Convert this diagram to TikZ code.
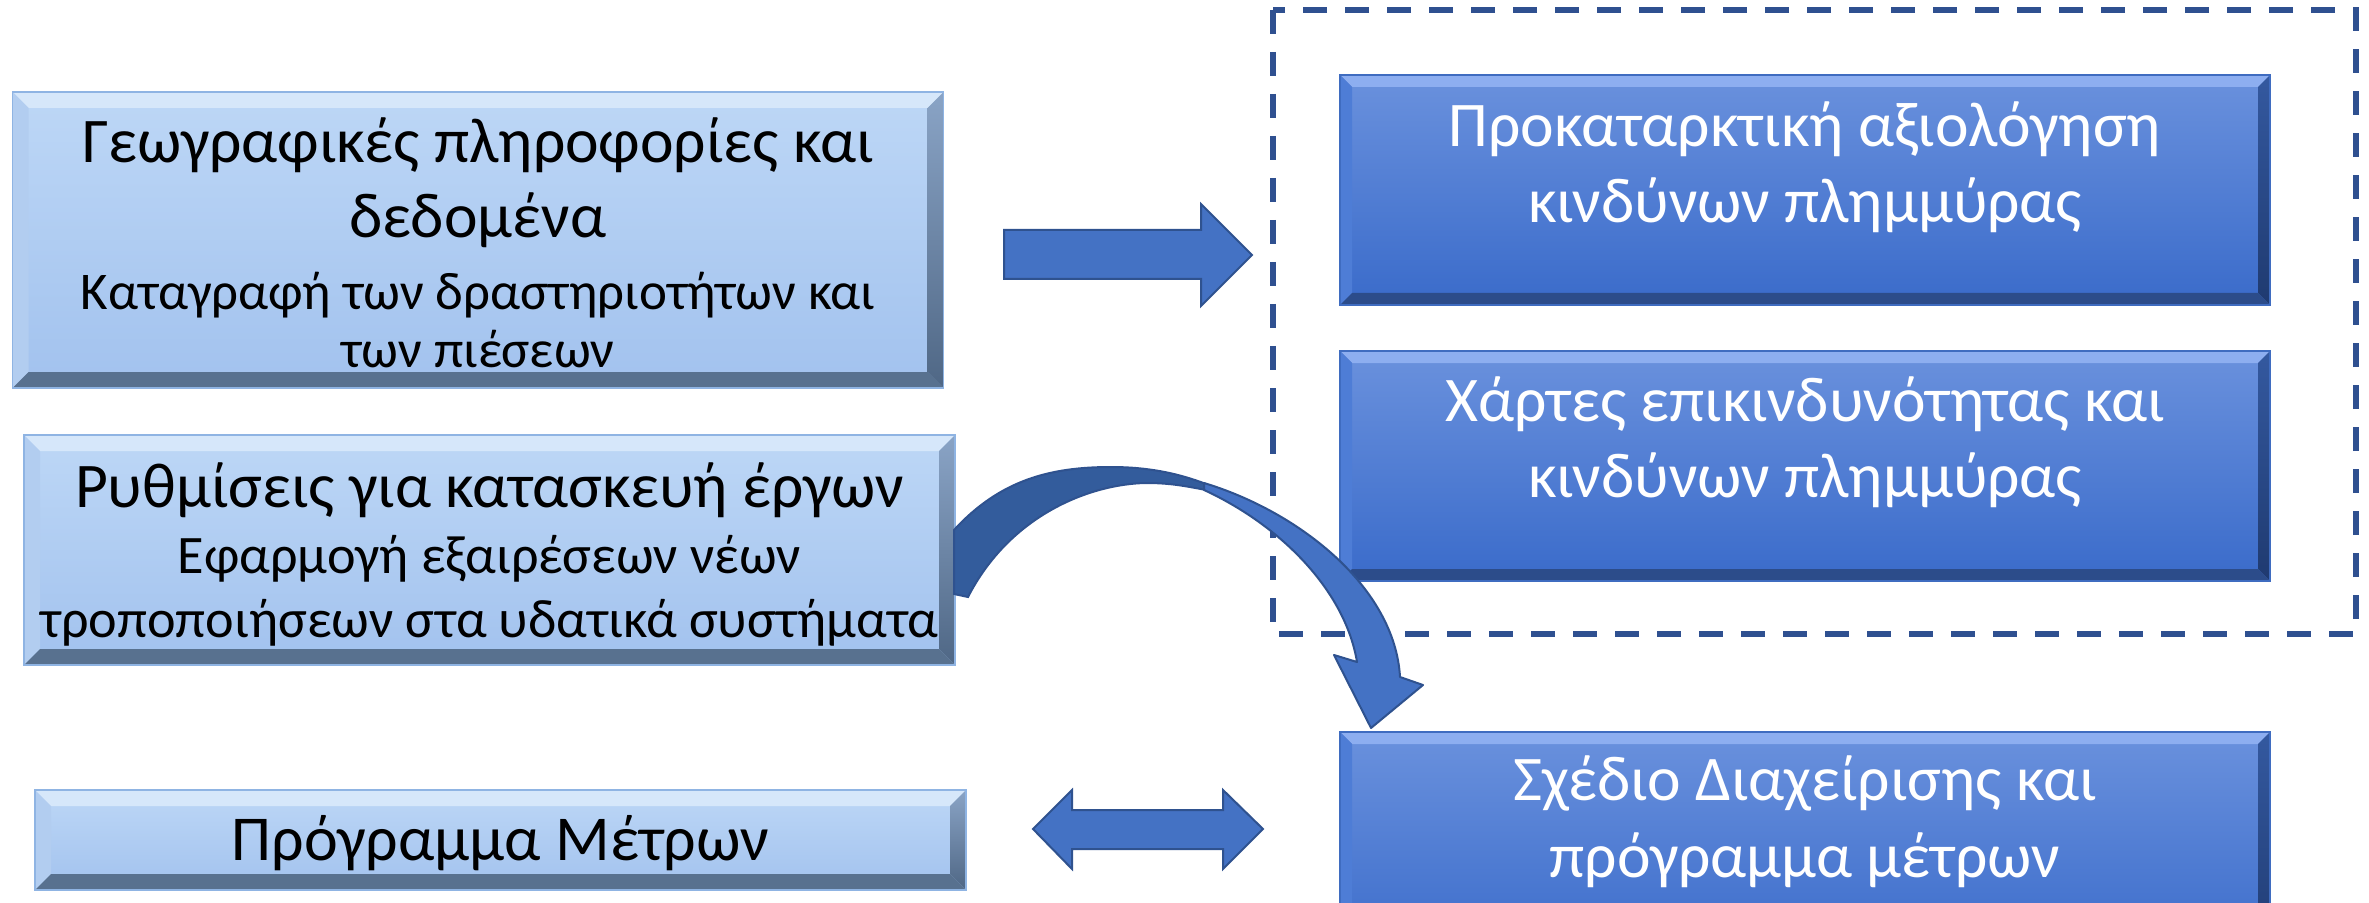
\documentclass[tikz,border=0pt]{standalone}
\usepackage{fontspec}
\setmainfont{Carlito}
\definecolor{lmaintop}{HTML}{BDD7F6}
\definecolor{lmainbot}{HTML}{A2C2EE}
\definecolor{lbevtop}{HTML}{D6E7FA}
\definecolor{lbevleft}{HTML}{B2CDF0}
\definecolor{lbevrt}{HTML}{8AA4C6}
\definecolor{lbevrb}{HTML}{4F6785}
\definecolor{lbevbot}{HTML}{58718F}
\definecolor{lborder}{HTML}{8FB4E3}
\definecolor{dmaintop}{HTML}{6A91DD}
\definecolor{dmainbot}{HTML}{3A6BCA}
\definecolor{dbevtop}{HTML}{8DAEF0}
\definecolor{dbevleft}{HTML}{4E7DD6}
\definecolor{dbevrt}{HTML}{3459A0}
\definecolor{dbevrb}{HTML}{1F3A70}
\definecolor{dbevbot}{HTML}{2C4C8A}
\definecolor{dborder}{HTML}{3F6CC0}
\definecolor{arrfill}{HTML}{4472C4}
\definecolor{arrdark}{HTML}{335C9C}
\definecolor{arredge}{HTML}{2F528F}
\definecolor{dashcol}{HTML}{2F5090}
\newcommand\smtxtA{\fontsize{26.5}{30}\selectfont}
\newcommand\smtxtB{\fontsize{27.1}{30}\selectfont}
\tikzset{
  bevelled/.style n args={7}{path picture={
    \coordinate (pnw) at (path picture bounding box.north west);
    \coordinate (pne) at (path picture bounding box.north east);
    \coordinate (psw) at (path picture bounding box.south west);
    \coordinate (pse) at (path picture bounding box.south east);
    \fill[#1] (pnw) -- (pne) -- ([shift={(-#7,-#7)}]pne) -- ([shift={(#7,-#7)}]pnw) -- cycle;
    \fill[#2] (pnw) -- ([shift={(#7,-#7)}]pnw) -- ([shift={(#7,#7)}]psw) -- (psw) -- cycle;
    \path[top color=#3,bottom color=#4] (pne) -- ([shift={(-#7,-#7)}]pne) -- ([shift={(-#7,#7)}]pse) -- (pse) -- cycle;
    \fill[#5] (psw) -- ([shift={(#7,#7)}]psw) -- ([shift={(-#7,#7)}]pse) -- (pse) -- cycle;
  }},
  lbox/.style={rectangle, draw=lborder, line width=0.8pt, top color=lmaintop, bottom color=lmainbot,
    bevelled={lbevtop}{lbevleft}{lbevrt}{lbevrb}{lbevbot}{}{8pt},
    inner sep=0pt, align=center, text=black, text depth=0pt,
    font=\fontsize{31.8}{37}\selectfont},
  dbox/.style={rectangle, draw=dborder, line width=0.8pt, top color=dmaintop, bottom color=dmainbot,
    bevelled={dbevtop}{dbevleft}{dbevrt}{dbevrb}{dbevbot}{}{6pt},
    inner sep=0pt, align=center, text=white, text depth=0pt,
    minimum width=465pt, minimum height=115pt,
    font=\fontsize{31.8}{38}\selectfont},
  blockarrow/.style={fill=arrfill, draw=arredge, line width=1pt, line join=miter},
  dashbox/.style={draw=dashcol, line width=3pt, dash pattern=on 12pt off 9pt}
}
\begin{document}
\begin{tikzpicture}[x=0.5pt,y=-0.5pt]
\useasboundingbox (0,0) rectangle (2369,903);
\clip (0,0) rectangle (2369,903);

% left column
\node[lbox, minimum width=465.5pt, minimum height=148pt, text height=127pt] (geo) at (478,240)
  {Γεωγραφικές πληροφορίες και\\δεδομένα\\[-0.5pt]{\smtxtA Καταγραφή των δραστηριοτήτων και}\\[-8.5pt]{\smtxtA των πιέσεων}};
\node[lbox, minimum width=465.5pt, minimum height=115pt, text height=87pt] (rules) at (489.5,550)
  {Ρυθμίσεις για κατασκευή έργων\\[-4pt]{\smtxtB Εφαρμογή εξαιρέσεων νέων}\\[-5pt]{\smtxtB τροποποιήσεων στα υδατικά συστήματα}};
\node[lbox, minimum width=465.5pt, minimum height=50pt, text height=20pt, font=\fontsize{32}{37}\selectfont] (prog) at (500.5,840)
  {Πρόγραμμα Μέτρων};

% right column
\draw[dashbox] (1273,10) rectangle (2356,634);
\node[dbox, text height=33pt] (prelim) at (1805,190) {Προκαταρκτική αξιολόγηση\\κινδύνων πλημμύρας};
\node[dbox, text height=31pt] (maps) at (1805,466) {Χάρτες επικινδυνότητας και\\κινδύνων πλημμύρας};
\node[dbox, text height=30pt] (plan) at (1805,847) {Σχέδιο Διαχείρισης και\\[0.5pt]πρόγραμμα μέτρων};

% straight arrow
\draw[blockarrow] (1004,230) -- (1201,230) -- (1201,204) -- (1252,255) -- (1201,306) -- (1201,279) -- (1004,279) -- cycle;

% double arrow
\draw[blockarrow] (1033,829) -- (1072,790) -- (1072,810) -- (1223,810) -- (1223,790) -- (1263,829)
  -- (1223,869) -- (1223,849) -- (1072,849) -- (1072,869) -- cycle;

% curved arrow
\draw[fill=arrdark, draw=arredge, line width=1pt] (954,530) .. controls (1000,480) and (1050,467) .. (1111,467)
  .. controls (1150,467) and (1180,474) .. (1206,484)
  -- (1206,490) .. controls (1185,486) and (1170,483) .. (1146,483)
  .. controls (1090,484) and (1010,515) .. (968,597) -- (954,594) -- cycle;
\draw[blockarrow, line join=round] (1204,483) .. controls (1300,512) and (1395,588) .. (1400,677)
  -- (1423,685) -- (1371,728) -- (1334,655) -- (1357,662)
  .. controls (1345,590) and (1280,525) .. (1204,490) -- cycle;
\end{tikzpicture}
\end{document}
